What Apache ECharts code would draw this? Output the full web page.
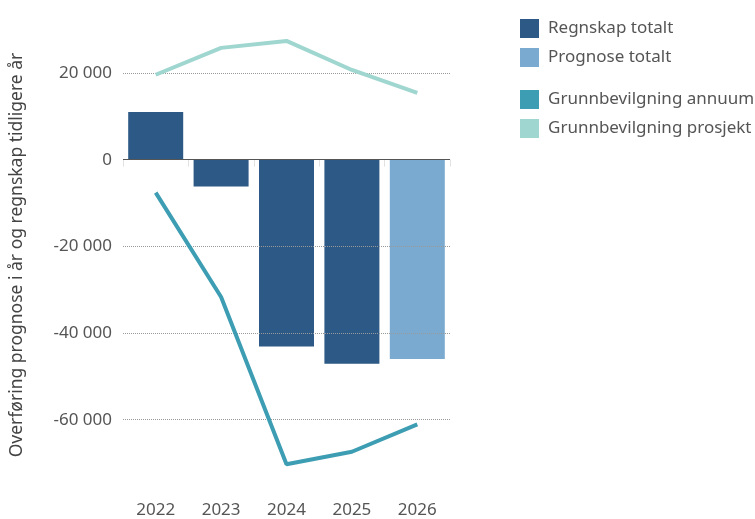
<!DOCTYPE html>
<html><head><meta charset="utf-8">
<script src="https://cdn.jsdelivr.net/npm/echarts@6/dist/echarts.min.js"></script>
<style>html,body{margin:0;padding:0;background:#fff}#c{width:755px;height:519px}</style>
</head><body><div id="c"></div>
<script>
const categories = ['2022', '2023', '2024', '2025', '2026'];
const regnskapTotalt = [11000, -6200, -43100, -47100, null];
const prognoseTotalt = [null, null, null, null, -46000];
const grunnAnnuum = [-7600, -31700, -70300, -67400, -61100];
const grunnProsjekt = [19600, 25800, 27400, 20700, 15400];
const yTicks = [20000, 0, -20000, -40000, -60000];

function fmt(v) {
  const s = String(Math.abs(v)).replace(/\B(?=(\d{3})+(?!\d))/g, ' ');
  return (v < 0 ? '-' : '') + s;
}
const font = 'Noto Sans';
const chart = echarts.init(document.getElementById('c'));
chart.setOption({
  animation: false,
  textStyle: { fontFamily: font },
  grid: { left: 123, right: 305, top: 21, bottom: 28 },
  legend: [
    { orient: 'vertical', left: 515, top: 14, itemWidth: 19, itemHeight: 19, itemGap: 10,
      icon: 'rect', data: ['Regnskap totalt', 'Prognose totalt'],
      textStyle: { fontSize: 17, color: '#555', fontFamily: font, padding: [0, 0, 0, 4] } },
    { orient: 'vertical', left: 515, top: 85, itemWidth: 19, itemHeight: 19, itemGap: 10,
      icon: 'rect', data: ['Grunnbevilgning annuum', 'Grunnbevilgning prosjekt'],
      textStyle: { fontSize: 17, color: '#555', fontFamily: font, padding: [0, 0, 0, 4] } }
  ],
  xAxis: {
    type: 'category', data: categories,
    axisLine: { show: false },
    axisTick: { show: true, length: 7, lineStyle: { color: '#e2e2e2' } },
    axisLabel: { fontSize: 17, color: '#555', margin: 13, fontFamily: font }
  },
  yAxis: {
    type: 'value', min: -76000, max: 32000,
    name: 'Overføring prognose i år og regnskap tidligere år',
    nameLocation: 'middle', nameGap: 97, nameRotate: 90,
    nameTextStyle: { fontSize: 17.5, color: '#444', fontFamily: font },
    axisLine: { show: false }, axisTick: { show: false },
    splitLine: { show: false },
    axisLabel: { customValues: yTicks, formatter: v => fmt(v), fontSize: 17, color: '#555', margin: 11, fontFamily: font }
  },
  series: [
    { name: 'Regnskap totalt', type: 'bar', data: regnskapTotalt, barWidth: 55, barGap: '-100%',
      itemStyle: { color: '#2c5985' }, z: 2,
      markLine: { silent: true, symbol: 'none', label: { show: false },
        data: yTicks.map(v => ({ yAxis: v, lineStyle: v === 0 ? { color: '#555', type: 'solid', width: 1.2 } : { color: '#999', type: 'dotted', width: 1 } })) } },
    { name: 'Prognose totalt', type: 'bar', data: prognoseTotalt, barWidth: 55, barGap: '-100%',
      itemStyle: { color: '#7aaad0' }, z: 2 },
    { name: 'Grunnbevilgning annuum', type: 'line', data: grunnAnnuum, showSymbol: false, symbol: 'none',
      lineStyle: { width: 4, color: '#3d9db3' }, itemStyle: { color: '#3d9db3' }, z: 5 },
    { name: 'Grunnbevilgning prosjekt', type: 'line', data: grunnProsjekt, showSymbol: false, symbol: 'none',
      lineStyle: { width: 4, color: '#9fd6cf' }, itemStyle: { color: '#9fd6cf' }, z: 5 }
  ]
});
</script></body></html>
